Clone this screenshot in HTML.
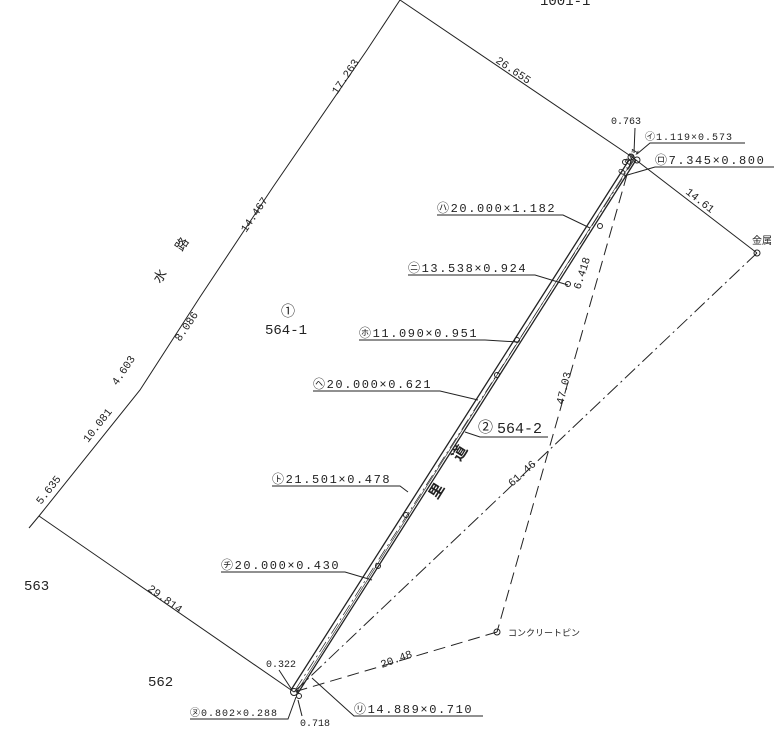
<!DOCTYPE html>
<html><head><meta charset="utf-8"><style>
html,body{margin:0;padding:0;background:#fff;}
svg{display:block;}
text{font-family:"Liberation Mono","Noto Sans CJK JP",monospace;fill:#222;}
.l{font-size:12px;letter-spacing:1.6px;}
.s{font-size:10px;letter-spacing:1px;}
</style></head><body>
<svg width="774" height="732" viewBox="0 0 774 732" xmlns="http://www.w3.org/2000/svg">
<g stroke="#222" stroke-width="1" fill="none">
<polyline points="400,0 367,50 273,187 200,297 140,390 39,516 29,528"/>
<polyline points="39,516 294,692"/>
<line x1="400" y1="0" x2="632" y2="157"/>
<line x1="632" y1="157" x2="757" y2="253"/>
<line x1="757" y1="253" x2="294" y2="692" stroke-dasharray="14,4,2,4"/>
<line x1="632" y1="157" x2="497" y2="632" stroke-dasharray="12,6"/>
<line x1="497" y1="632" x2="294" y2="692" stroke-dasharray="12,6"/>
<line x1="629" y1="160" x2="291" y2="690" stroke-width="1.3"/>
<line x1="636" y1="160" x2="298" y2="693" stroke-width="1.3"/>
<line x1="633" y1="160" x2="296" y2="693" stroke-width="0.6"/>
<line x1="634" y1="160" x2="294" y2="692" stroke-dasharray="12,4,2,4" stroke-width="0.7"/>
<circle cx="631" cy="157" r="3"/><circle cx="637" cy="160" r="3"/><circle cx="625" cy="162" r="2.5"/>
<circle cx="600" cy="226" r="2.5"/><circle cx="568" cy="284" r="2.5"/><circle cx="517" cy="340" r="2.5"/>
<circle cx="497" cy="375" r="2.5"/><circle cx="406" cy="515" r="2.5"/><circle cx="378" cy="566" r="2.5"/>
<circle cx="294" cy="692" r="3.5"/><circle cx="299" cy="696" r="2.5"/>
<circle cx="757" cy="253" r="3"/><circle cx="497" cy="632" r="3"/>
<polyline points="437,215 563,215 590,228"/>
<polyline points="408,275 535,275 568,285"/>
<polyline points="359,340 485,340 518,342"/>
<polyline points="313,391 440,391 478,400"/>
<polyline points="272,486 400,486 408,492"/>
<polyline points="221,572 345,572 372,580"/>
<polyline points="190,719 288,719 296,697"/>
<polyline points="483,716 354,716 312,678"/>
<polyline points="774,167 655,167 624,176"/>
<polyline points="745,143 650,143 637,154"/>
<polyline points="548,437 480,437 465,432"/>
<line x1="635" y1="128" x2="634" y2="153"/>
<line x1="279" y1="670" x2="292" y2="690"/>
<line x1="298" y1="700" x2="302" y2="716"/>
</g>
<g font-size="11">
<text x="540" y="5" font-size="14">1001-1</text>
<text transform="translate(495,62) rotate(34)">26.655</text>
<text transform="translate(685,193) rotate(38)">14.61</text>
<text transform="translate(337,95) rotate(-56)">17.263</text>
<text transform="translate(246,233) rotate(-56)">14.467</text>
<text transform="translate(180,342) rotate(-56)">8.086</text>
<text transform="translate(117,386) rotate(-56)">4.603</text>
<text transform="translate(88,443) rotate(-52)">10.081</text>
<text transform="translate(41,505) rotate(-52)">5.635</text>
<text transform="translate(147,590) rotate(36)">29.814</text>
<text transform="translate(382,668) rotate(-20)">20.48</text>
<text transform="translate(580,290) rotate(-72)">6.418</text>
<text transform="translate(563,405) rotate(-76)">47.03</text>
<text transform="translate(512,487) rotate(-42)">61.46</text>
<text transform="translate(623,176) rotate(-58)" font-size="10">0.841</text>
<text x="611" y="124" font-size="10">0.763</text>
<text x="266" y="667" font-size="10">0.322</text>
<text x="300" y="726" font-size="10">0.718</text>
<text x="645" y="140" class="s">㋑1.119×0.573</text>
<text x="655" y="164" class="l">㋺7.345×0.800</text>
<text x="437" y="212" class="l">㋩20.000×1.182</text>
<text x="408" y="272" class="l">㋥13.538×0.924</text>
<text x="359" y="337" class="l">㋭11.090×0.951</text>
<text x="313" y="388" class="l">㋬20.000×0.621</text>
<text x="272" y="483" class="l">㋣21.501×0.478</text>
<text x="221" y="569" class="l">㋠20.000×0.430</text>
<text x="190" y="716" class="s">㋦0.802×0.288</text>
<text x="354" y="713" class="l">㋷14.889×0.710</text>
<text x="478" y="432" font-size="15">②</text>
<text x="497" y="433" font-size="15">564-2</text>
<text x="281" y="316" font-size="14">①</text>
<text x="265" y="334" font-size="14">564-1</text>
<text x="24" y="590" font-size="14">563</text>
<text x="148" y="686" font-size="14">562</text>
<text x="508" y="636" font-size="9">コンクリートピン</text>
<text x="752" y="244" font-size="10">金属</text>
<text transform="translate(160,284) rotate(-56)" font-size="13">水</text>
<text transform="translate(182,252) rotate(-56)" font-size="13">路</text>
<text transform="translate(437,500) rotate(-58)" font-size="15" font-weight="bold">里</text>
<text transform="translate(460,462) rotate(-58)" font-size="15" font-weight="bold">道</text>
</g>
</svg>
</body></html>
